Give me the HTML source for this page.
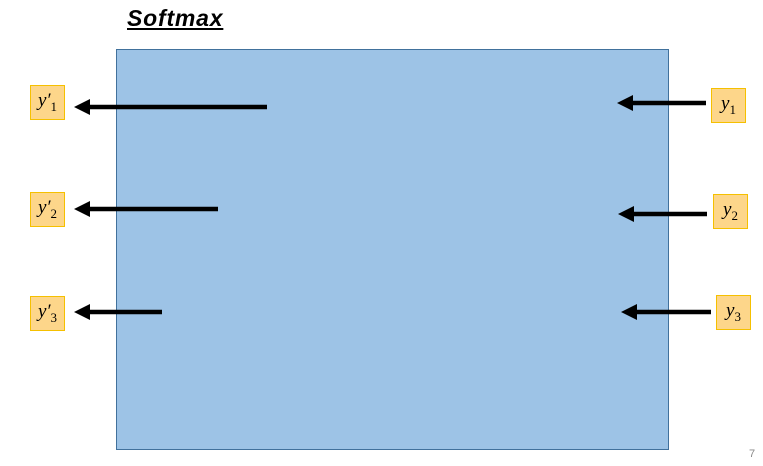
<!DOCTYPE html>
<html><head><style>
body{margin:0;width:763px;height:466px;background:#fff;position:relative;overflow:hidden;font-family:"Liberation Sans",sans-serif}
.t{position:absolute;left:127px;top:5px;font:italic bold 23px "Liberation Sans",sans-serif;letter-spacing:0.8px;text-decoration:underline;color:#000}
.b{position:absolute;width:33px;height:33px;background:#fdd68a;border:1px solid #f5c000;font:italic 19px "Liberation Serif",serif;text-align:center;line-height:30px}
.b sub{font-style:normal;font-size:13px}
</style></head><body>
<div class="t">Softmax</div>
<svg width="763" height="466" style="position:absolute;left:0;top:0">
<rect x="116.5" y="49.5" width="552" height="400" fill="#9dc3e6" stroke="#41719c" stroke-width="1"/>
<g stroke="#000" stroke-width="4.5">
<line x1="267" y1="107" x2="86" y2="107"/><line x1="218" y1="209" x2="86" y2="209"/><line x1="162" y1="312" x2="86" y2="312"/>
<line x1="706" y1="103" x2="630" y2="103"/><line x1="707" y1="214" x2="631" y2="214"/><line x1="711" y1="312" x2="634" y2="312"/>
</g>
<g fill="#000">
<polygon points="74,107 90,99 90,115"/><polygon points="74,209 90,201 90,217"/><polygon points="74,312 90,304 90,320"/>
<polygon points="617,103 633,95 633,111"/><polygon points="618,214 634,206 634,222"/><polygon points="621,312 637,304 637,320"/>
</g>
<text x="749" y="457" font-family="Liberation Sans" font-size="11" fill="#888">7</text>
</svg>
<div class="b" style="left:30px;top:85px">y′<sub>1</sub></div>
<div class="b" style="left:30px;top:192px">y′<sub>2</sub></div>
<div class="b" style="left:30px;top:296px">y′<sub>3</sub></div>
<div class="b" style="left:711px;top:88px">y<sub>1</sub></div>
<div class="b" style="left:713px;top:194px">y<sub>2</sub></div>
<div class="b" style="left:716px;top:295px">y<sub>3</sub></div>
</body></html>
